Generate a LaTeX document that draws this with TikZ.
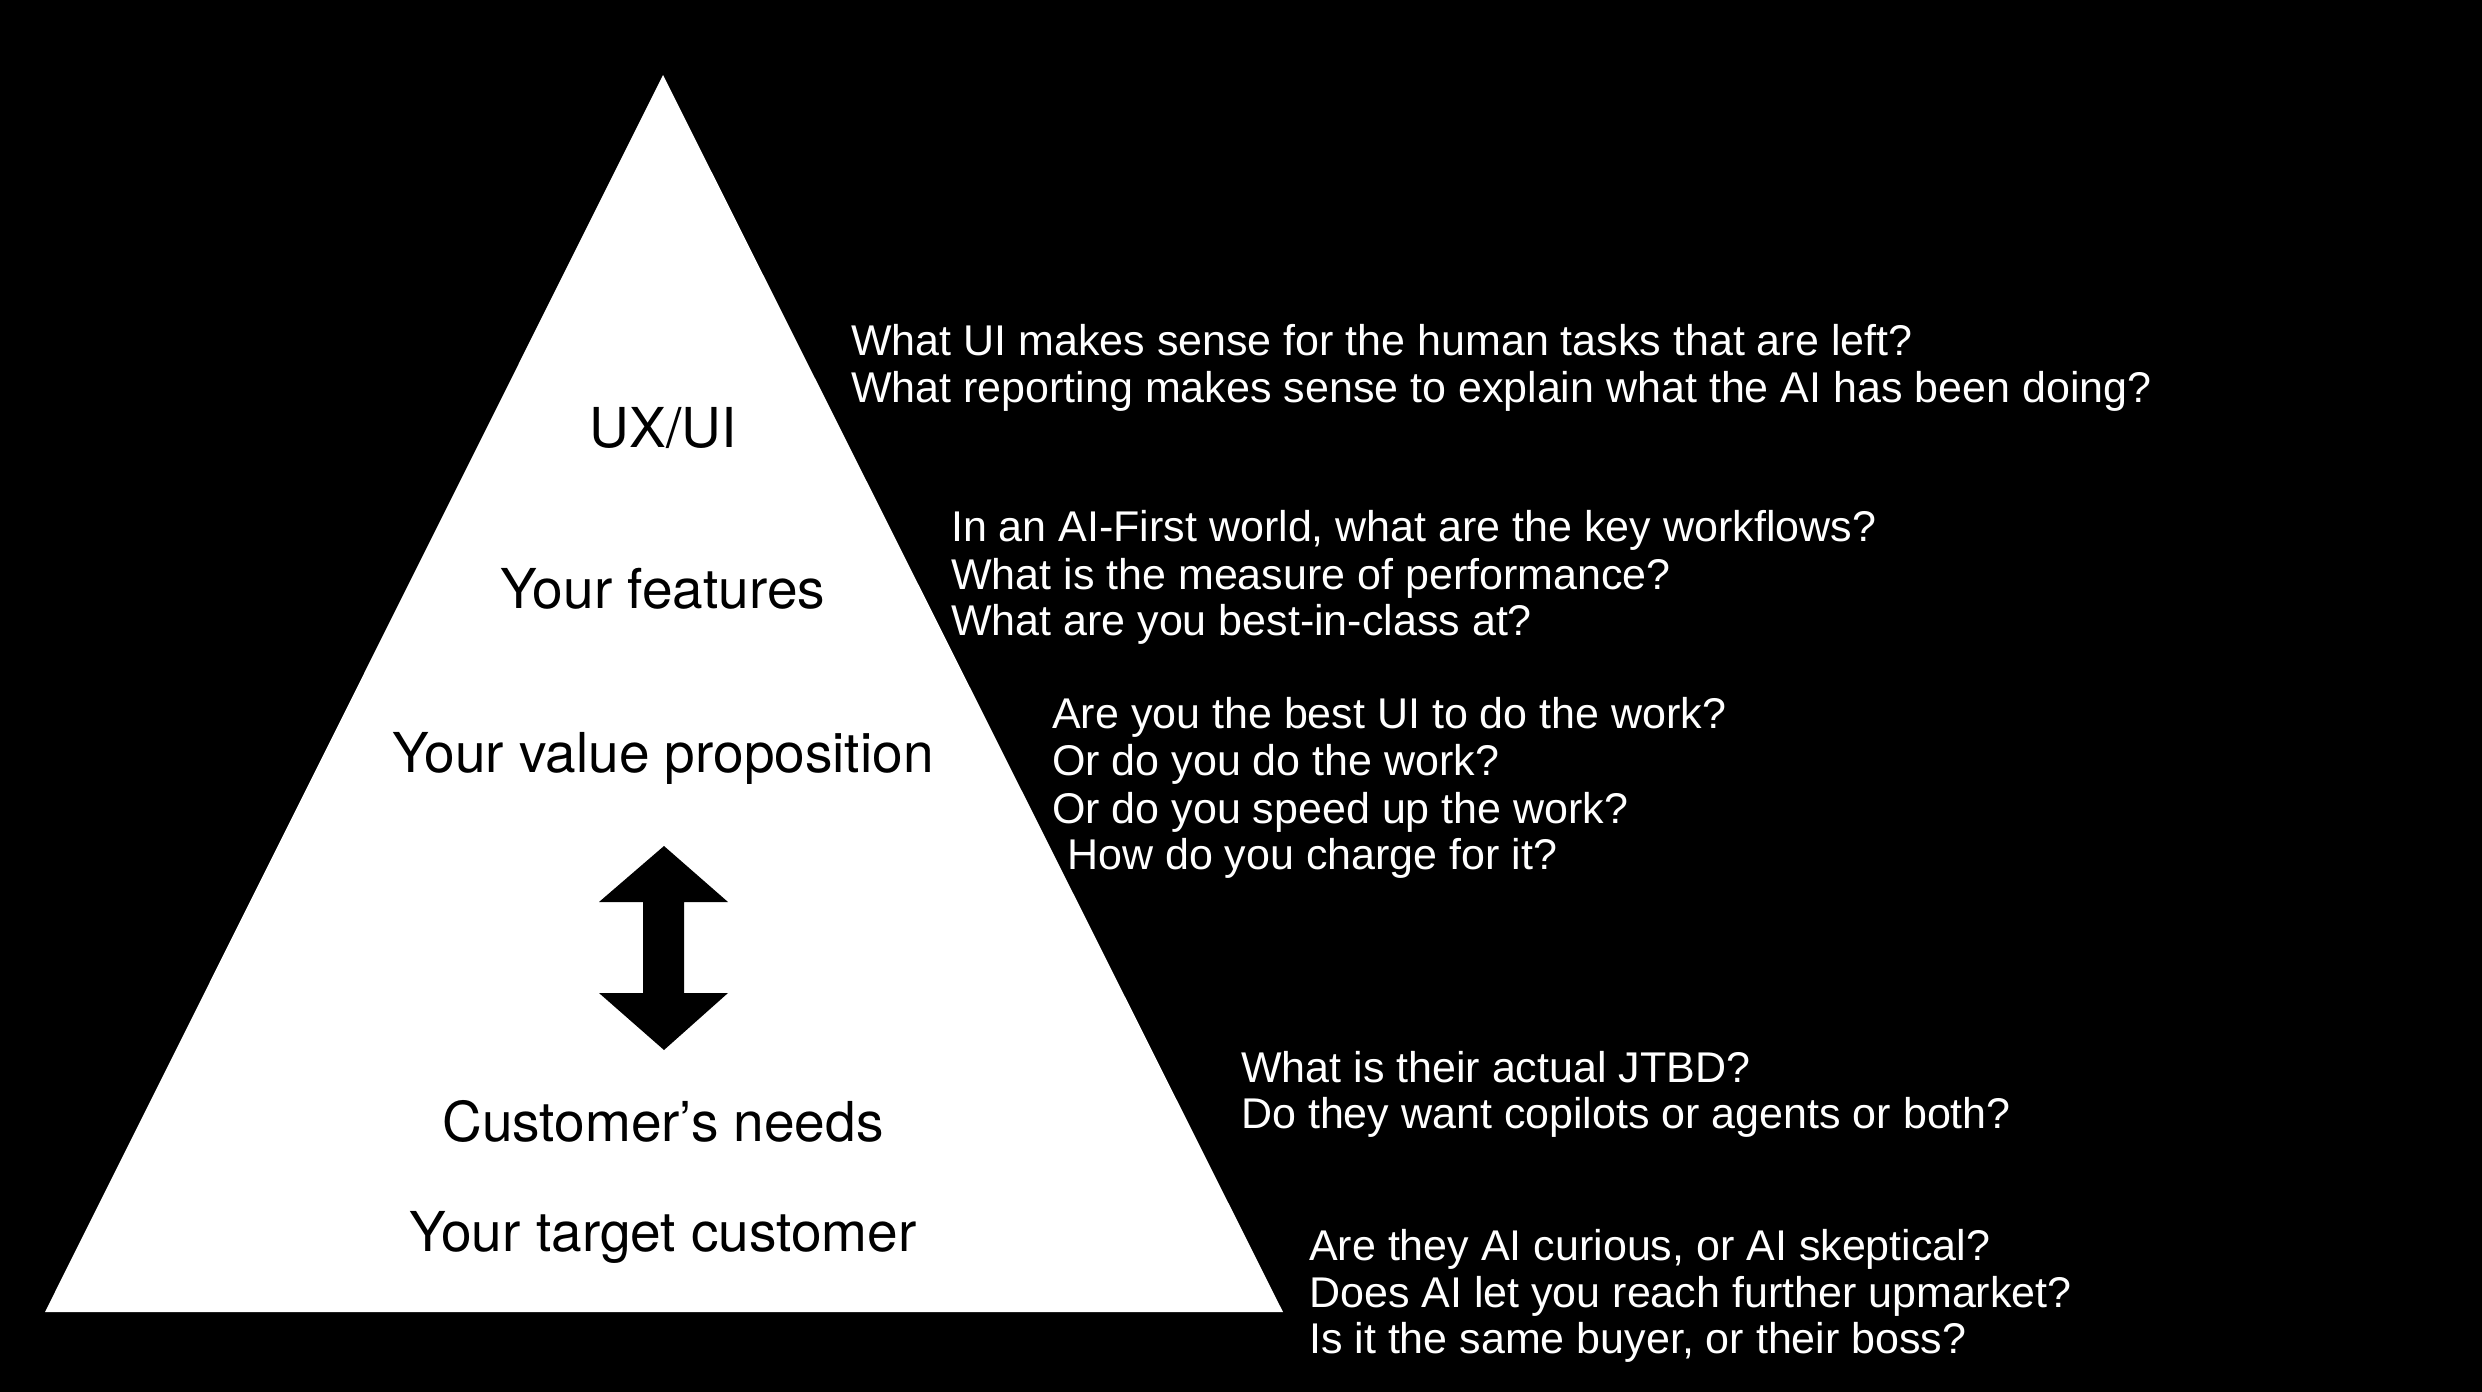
\documentclass[tikz,border=0pt]{standalone}
\usepackage{fontspec}
\setmainfont{TeX Gyre Heros}
\newfontfamily\handfont{Liberation Sans}
\begin{document}
\begin{tikzpicture}[x=1pt,y=-1pt,
  lvl/.style={anchor=base,inner sep=0pt,text=black,font=\fontsize{55}{60}\selectfont},
  q/.style={anchor=base west,inner sep=0pt,text=white,font=\handfont\fontsize{43}{47}\selectfont}]
\fill[black] (0,0) rectangle (2482,1392);
\useasboundingbox (0,0) rectangle (2482,1392);
% pyramid
\fill[white] (663,75) -- (1283,1312) -- (45,1312) -- cycle;
% double arrow
\fill[black] (664,846) -- (728,902) -- (684,902) -- (684,993) -- (728,993) -- (664,1050)
  -- (599,993) -- (643,993) -- (643,902) -- (599,902) -- cycle;
% levels
\node[lvl] (ux) at (663,447) {UX/UI};
\node[lvl] (feat) at (663,608) {Your features};
\node[lvl] (value) at (663,772) {Your value proposition};
\node[lvl] (needs) at (663,1141) {Customer’s needs};
\node[lvl] (target) at (663,1251) {Your target customer};
% questions
\node[q] (q1a) at (851,355) {What UI makes sense for the human tasks that are left?};
\node[q] (q1b) at (851,402) {What reporting makes sense to explain what the AI has been doing?};
\node[q] (q2a) at (951,541) {In an AI-First world, what are the key workflows?};
\node[q] (q2b) at (951,589) {What is the measure of performance?};
\node[q] (q2c) at (951,635) {What are you best-in-class at?};
\node[q] (q3a) at (1052,728) {Are you the best UI to do the work?};
\node[q] (q3b) at (1052,775) {Or do you do the work?};
\node[q] (q3c) at (1052,823) {Or do you speed up the work?};
\node[q] (q3d) at (1067,869) {How do you charge for it?};
\node[q] (q4a) at (1241,1082) {What is their actual JTBD?};
\node[q] (q4b) at (1241,1128) {Do they want copilots or agents or both?};
\node[q] (q5a) at (1309,1260) {Are they AI curious, or AI skeptical?};
\node[q] (q5b) at (1309,1307) {Does AI let you reach further upmarket?};
\node[q] (q5c) at (1309,1353) {Is it the same buyer, or their boss?};
\end{tikzpicture}
\end{document}
